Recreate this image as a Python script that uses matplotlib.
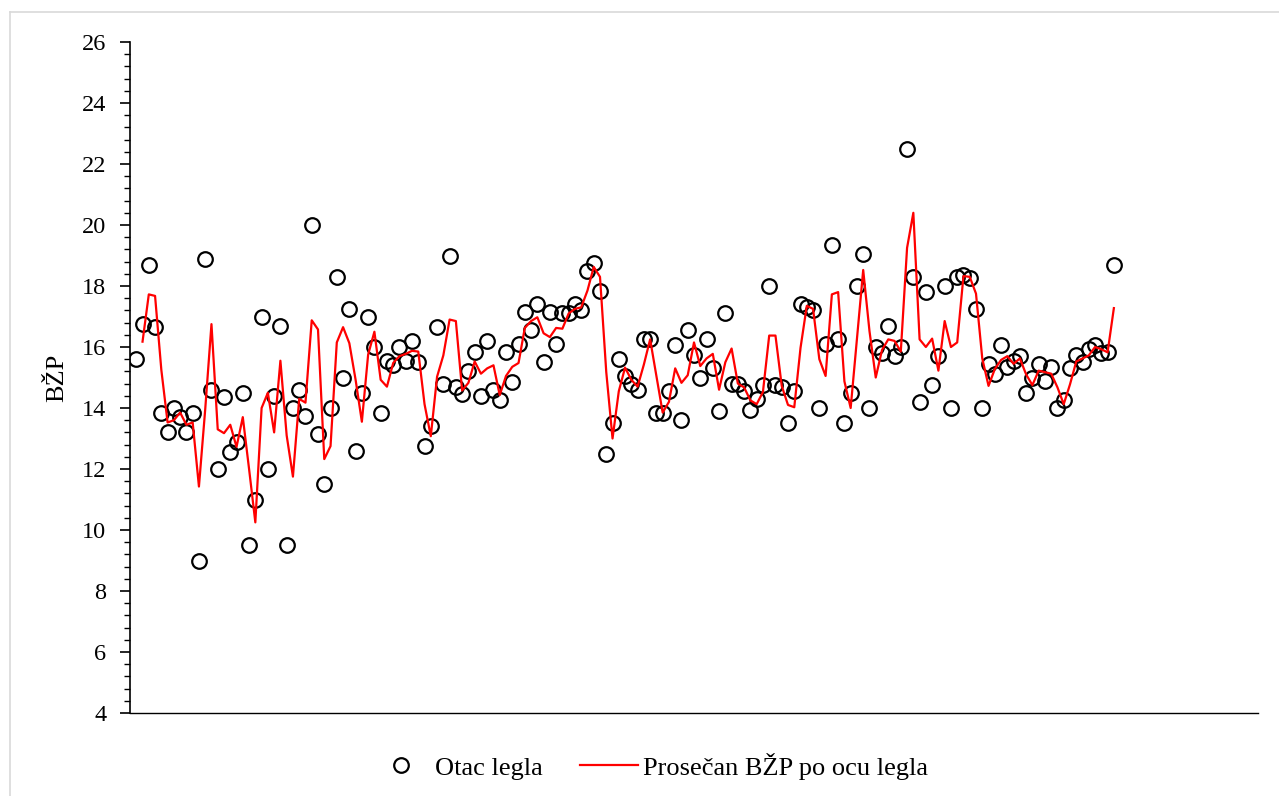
import numpy as np
import matplotlib
matplotlib.use("Agg")
import matplotlib.pyplot as plt
from matplotlib.ticker import MultipleLocator
from matplotlib.lines import Line2D

# BZP per litter sire, in order
bzp = [
    15.6, 16.75, 18.7, 16.65, 13.85, 13.2, 14.0, 13.7, 13.2, 13.85,
    9.0, 18.9, 14.6, 12.0, 14.35, 12.55, 12.9, 14.5, 9.5, 11.0,
    17.0, 12.0, 14.4, 16.7, 9.5, 14.0, 14.6, 13.75, 20.0, 13.15,
    11.5, 14.0, 18.3, 15.0, 17.25, 12.6, 14.5, 17.0, 16.0, 13.85,
    15.55, 15.4, 16.0, 15.55, 16.2, 15.5, 12.75, 13.4, 16.65, 14.8,
    19.0, 14.7, 14.45, 15.2, 15.85, 14.4, 16.2, 14.6, 14.25, 15.85,
    14.85, 16.1, 17.15, 16.55, 17.4, 15.5, 17.15, 16.1, 17.1, 17.1,
    17.4, 17.2, 18.5, 18.75, 17.85, 12.5, 13.5, 15.6, 15.05, 14.8,
    14.6, 16.25, 16.25, 13.85, 13.85, 14.55, 16.05, 13.6, 16.55, 15.75,
    15.0, 16.25, 15.3, 13.9, 17.1, 14.8, 14.8, 14.55, 13.95, 14.3,
    14.75, 18.0, 14.75, 14.7, 13.5, 14.55, 17.4, 17.3, 17.2, 14.0,
    16.1, 19.35, 16.25, 13.5, 14.5, 18.0, 19.05, 14.0, 16.0, 15.8,
    16.7, 15.7, 16.0, 22.5, 18.3, 14.2, 17.8, 14.75, 15.7, 18.0,
    14.0, 18.3, 18.35, 18.25, 17.25, 14.0, 15.45, 15.1, 16.05, 15.35,
    15.55, 15.7, 14.5, 15.0, 15.45, 14.9, 15.35, 14.0, 14.25, 15.3,
    15.75, 15.5, 15.95, 16.05, 15.8, 15.85, 18.7,
]
ma_period = 2

plt.rcParams["font.family"] = ["Liberation Serif", "DejaVu Serif"]

x = np.arange(1, len(bzp) + 1)
y = np.array(bzp)
ma = np.convolve(y, np.ones(ma_period) / ma_period, mode="valid")

fig = plt.figure(figsize=(12.79, 7.96), dpi=100)
ax = fig.add_axes([130 / 1279, 1 - 713 / 796, (1258 - 130) / 1279, (713 - 42) / 796])

ax.plot(x, y, linestyle="none", marker="o", markersize=10.5, markerfacecolor="none",
        markeredgecolor="black", markeredgewidth=1.6, label="Otac legla")
ax.plot(x[ma_period - 1:], ma, color="red", linewidth=1.6,
        label="Prosečan BŽP po ocu legla")

ax.set_xlim(0, 180)
ax.set_ylim(4, 26)
ax.yaxis.set_major_locator(MultipleLocator(2))
ax.yaxis.set_minor_locator(MultipleLocator(0.4))
ax.set_xticks([])
ax.tick_params(axis="y", which="major", length=7, width=1.2, labelsize=17.5,
               direction="out", pad=10)
ax.tick_params(axis="y", which="minor", length=4, width=1.0, direction="out")
for s in ["top", "right"]:
    ax.spines[s].set_visible(False)
ax.spines["left"].set_linewidth(1.2)
ax.spines["bottom"].set_linewidth(1.0)
ax.set_ylabel("BŽP", fontsize=19, labelpad=10)

handles = [
    Line2D([], [], linestyle="none", marker="o", markersize=10.5, markerfacecolor="none",
           markeredgecolor="black", markeredgewidth=1.6),
    Line2D([], [], color="red", linewidth=1.6),
]
fig.legend(handles, ["Otac legla", "Prosečan BŽP po ocu legla"], loc="center",
           bbox_to_anchor=(0.508, 1 - 766 / 796), ncol=2, frameon=False, fontsize=19,
           handlelength=2.2, handletextpad=0.2, columnspacing=1.4)

# light frame of the chart area
fig.add_artist(Line2D([10 / 1279, 10 / 1279], [0, 1 - 12 / 796], color="#d9d9d9",
                      linewidth=1.2, transform=fig.transFigure))
fig.add_artist(Line2D([10 / 1279, 1], [1 - 12 / 796, 1 - 12 / 796], color="#d9d9d9",
                      linewidth=1.2, transform=fig.transFigure))

fig.savefig("out.png", dpi=100)
